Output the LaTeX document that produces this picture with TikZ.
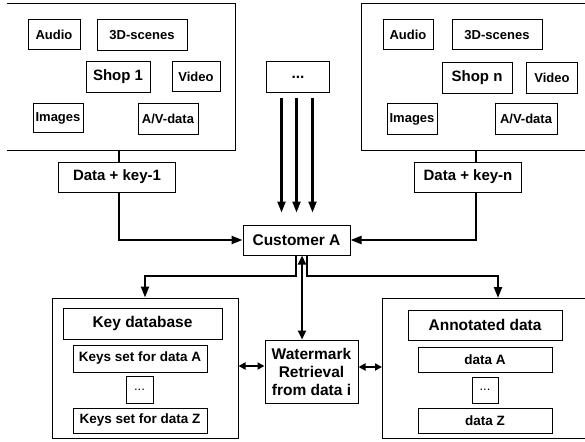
\documentclass[tikz,border=0pt]{standalone}
\usepackage{fontspec}
\setmainfont{Liberation Sans}
\usetikzlibrary{arrows.meta}
\begin{document}
\begin{tikzpicture}[x=1pt,y=-1pt,
  bx/.style={draw, line width=1pt, inner sep=0pt, align=center, font=\bfseries\fontsize{13}{15}\selectfont},
  big/.style={bx, font=\bfseries\fontsize{15.5}{18}\selectfont},
  cont/.style={line width=1pt},
  arr/.style={line width=2.2pt, -{Triangle[length=11pt,width=8pt]}},
  dbl/.style={line width=2.2pt, {Triangle[length=9pt,width=8pt]}-{Triangle[length=9pt,width=8pt]}},
  dblh/.style={line width=2pt, {Triangle[length=7pt,width=7pt]}-{Triangle[length=7pt,width=7pt]}},
  ln/.style={line width=2pt}]
\useasboundingbox (0,0) rectangle (585,441);

% left shop container (open on the left)
\draw[cont] (7,4) -- (235,4) -- (235,150) -- (7,150);
\node[bx, minimum width=52, minimum height=30] (audioL) at (54,35) {Audio};
\node[bx, minimum width=90, minimum height=31] (sceneL) at (142,35) {3D-scenes};
\node[bx, font=\bfseries\fontsize{15}{18}\selectfont, minimum width=64, minimum height=31] (shop1) at (118,77) {Shop 1};
\node[bx, minimum width=48, minimum height=30] (videoL) at (196,77) {Video};
\node[bx, minimum width=50, minimum height=29] (imagesL) at (58,118) {Images};
\node[bx, minimum width=60, minimum height=31] (avL) at (168,119) {A/V-data};
\node[big, font=\bfseries\fontsize{15}{18}\selectfont, minimum width=117, minimum height=30] (dk1) at (117,177) {Data + key-1};

% right shop container (open on the right)
\draw[cont] (585,4) -- (361,4) -- (361,150) -- (585,150);
\node[bx, minimum width=50, minimum height=30] (audioR) at (408,35) {Audio};
\node[bx, minimum width=90, minimum height=30] (sceneR) at (497,35) {3D-scenes};
\node[bx, font=\bfseries\fontsize{15}{18}\selectfont, minimum width=70, minimum height=31] (shopn) at (477,78) {Shop n};
\node[bx, minimum width=51, minimum height=31] (videoR) at (552,78) {Video};
\node[bx, minimum width=50, minimum height=31] (imagesR) at (412,119) {Images};
\node[bx, minimum width=62, minimum height=31] (avR) at (526,119) {A/V-data};
\node[big, font=\bfseries\fontsize{15}{18}\selectfont, minimum width=107, minimum height=30] (dkn) at (468,177) {Data + key-n};

% dots source
\node[big, minimum width=63, minimum height=31] (dots) at (298,77) {...};

% customer
\node[big, minimum width=107, minimum height=30] (cust) at (296.5,240) {Customer A};

% key database
\node[draw, line width=1pt, minimum width=186, minimum height=140, inner sep=0pt] (keyc) at (145,368) {};
\node[big, minimum width=159, minimum height=31] (keyh) at (142.5,323.5) {Key database};
\node[bx, font=\bfseries\fontsize{13.5}{16}\selectfont, minimum width=134, minimum height=27] (keyA) at (140,358.5) {Keys set for data A};
\node[bx, font=\fontsize{13}{15}\selectfont, minimum width=27, minimum height=27] (keyd) at (139.5,389.5) {...};
\node[bx, font=\bfseries\fontsize{13.5}{16}\selectfont, minimum width=134, minimum height=25] (keyZ) at (140,420.5) {Keys set for data Z};

% watermark
\node[big, minimum width=93, minimum height=63] (wm) at (311.5,371.5) {Watermark\\Retrieval\\from data i};

% annotated data container (open on the right)
\draw[cont] (585,298) -- (382,298) -- (382,438) -- (585,438);
\coordinate (annTop) at (498,298);
\coordinate (annL) at (382,367);
\node[big, minimum width=154, minimum height=30] (annh) at (485,325) {Annotated data};
\node[bx, font=\bfseries\fontsize{13.5}{16}\selectfont, minimum width=134, minimum height=25] (annA) at (485,359.5) {data A};
\node[bx, font=\fontsize{13}{15}\selectfont, minimum width=26, minimum height=26] (annd) at (485,390) {...};
\node[bx, font=\bfseries\fontsize{13.5}{16}\selectfont, minimum width=134, minimum height=25] (annZ) at (485,420.5) {data Z};

% connectors from shops
\coordinate (l1) at (119,150);
\draw[ln] (l1) -- (l1 |- dk1.north);
\draw[arr] (l1 |- dk1.south) -- (l1 |- cust.west) -- (cust.west);
\coordinate (r1) at (476,150);
\draw[ln] (r1) -- (r1 |- dkn.north);
\draw[arr] (r1 |- dkn.south) -- (r1 |- cust.east) -- (cust.east);

% three arrows from dots
\foreach \dx in {-16.5,-1.5,14.5}
  \draw[arr, shorten <=5pt, shorten >=12pt] ([xshift=\dx pt]dots.south) -- ([xshift=\dx pt]dots.south |- cust.north);

% branches below customer
\coordinate (jy) at (0,276);
\coordinate (bl) at ([xshift=-0.5pt]cust.south);
\coordinate (bc) at ([xshift=5.5pt]cust.south);
\coordinate (br) at ([xshift=10.5pt]cust.south);
\draw[arr] (bl) -- (bl |- jy) -| (keyc.north);
\draw[arr] (br) -- (br |- jy) -| (annTop);
\draw[dbl] (bc) -- (bc |- wm.north);

% side double arrows
\coordinate (hy) at (0,366);
\draw[dblh] (keyc.east |- hy) -- (wm.west |- hy);
\draw[dblh] (wm.east |- annL) -- (annL);
\end{tikzpicture}
\end{document}
